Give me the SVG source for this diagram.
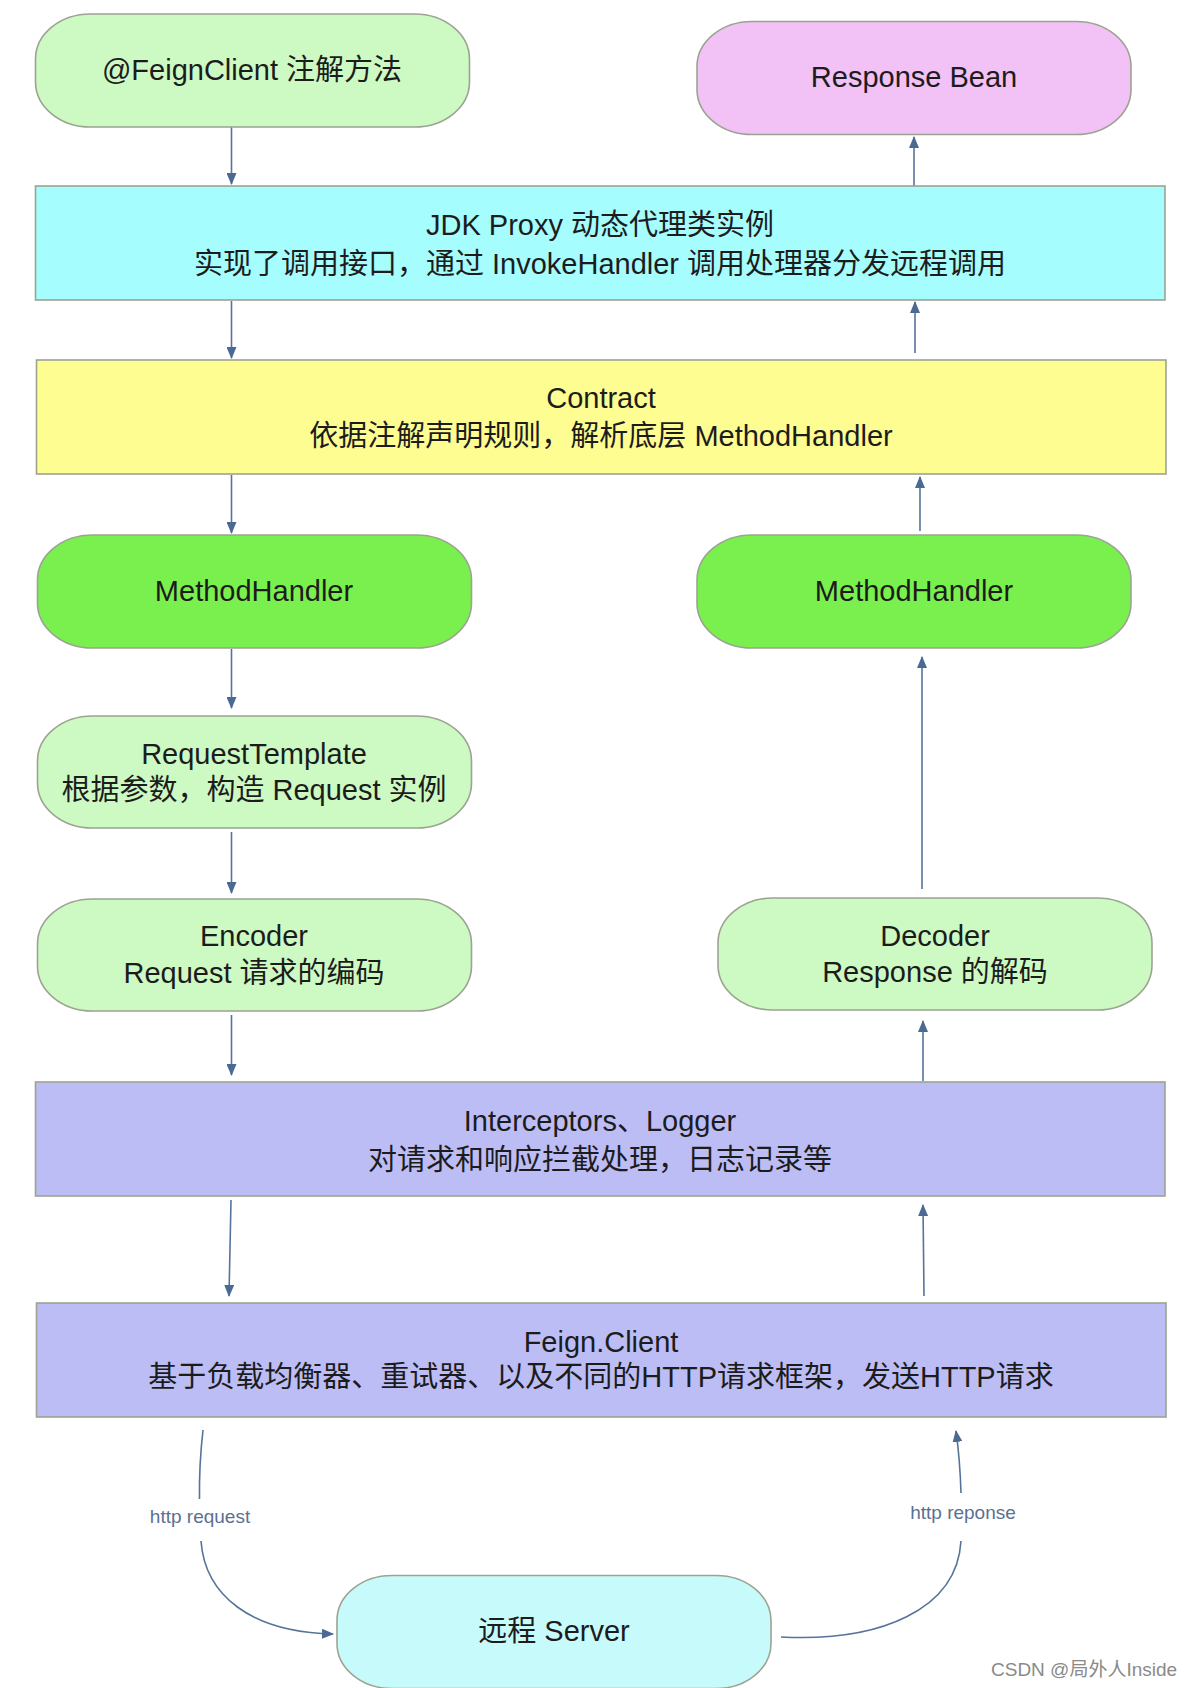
<svg xmlns="http://www.w3.org/2000/svg" width="1190" height="1688" viewBox="0 0 1190 1688">
<style>
.t{font-family:"Liberation Sans","Noto Sans CJK SC",sans-serif;font-size:29px;fill:#1c1c1c;text-anchor:middle}
.s{font-family:"Liberation Sans","Noto Sans CJK SC",sans-serif;font-size:19px;fill:#5a7092;text-anchor:middle}
.w{font-family:"Liberation Sans","Noto Sans CJK SC",sans-serif;font-size:19px;fill:#8a8a8a}
.n{stroke:#9ca393;stroke-width:1.6}
.c{fill:none;stroke:#56739a;stroke-width:1.6}
</style>
<defs>
<marker id="ah" markerUnits="userSpaceOnUse" markerWidth="12" markerHeight="10" refX="11" refY="5" orient="auto">
<path d="M0,0 L12,5 L0,10 z" fill="#4a6a94"/>
</marker>
</defs>
<rect width="1190" height="1688" fill="#ffffff"/>
<g id="connectors">
<line class="c" x1="231.5" y1="127" x2="231.5" y2="184" marker-end="url(#ah)"/>
<line class="c" x1="914" y1="186" x2="914" y2="137" marker-end="url(#ah)"/>
<line class="c" x1="231.5" y1="301" x2="231.5" y2="358" marker-end="url(#ah)"/>
<line class="c" x1="915" y1="353" x2="915" y2="302" marker-end="url(#ah)"/>
<line class="c" x1="231.5" y1="475" x2="231.5" y2="533" marker-end="url(#ah)"/>
<line class="c" x1="920" y1="531" x2="920" y2="477" marker-end="url(#ah)"/>
<line class="c" x1="231.5" y1="649" x2="231.5" y2="708" marker-end="url(#ah)"/>
<line class="c" x1="922" y1="889" x2="922" y2="657" marker-end="url(#ah)"/>
<line class="c" x1="231.5" y1="832" x2="231.5" y2="893" marker-end="url(#ah)"/>
<line class="c" x1="231.5" y1="1015" x2="231.5" y2="1075" marker-end="url(#ah)"/>
<line class="c" x1="923" y1="1081" x2="923" y2="1021" marker-end="url(#ah)"/>
<line class="c" x1="231" y1="1200" x2="229" y2="1296" marker-end="url(#ah)"/>
<line class="c" x1="924" y1="1296" x2="923" y2="1205" marker-end="url(#ah)"/>
<path class="c" d="M203,1430 Q199,1465 199.5,1499"/>
<path class="c" d="M201,1541 C205,1595 250,1632 333,1634" marker-end="url(#ah)"/>
<path class="c" d="M781,1637 C880,1642 957,1610 961,1541"/>
<path class="c" d="M961,1493 Q960,1460 956,1431" marker-end="url(#ah)"/>
<text class="s" x="200" y="1523">http request</text>
<text class="s" x="963" y="1519">http reponse</text>
</g>
<g id="feignclient">
<rect class="n" x="35.5" y="14" width="434" height="113" rx="55" ry="45" fill="#cdf9c3"/>
<text class="t" x="252" y="80">@FeignClient 注解方法</text>
</g>
<g id="responsebean">
<rect class="n" x="697" y="21.5" width="434" height="113" rx="55" ry="45" fill="#f2c1f6"/>
<text class="t" x="914" y="87">Response Bean</text>
</g>
<g id="jdkproxy">
<rect class="n" x="35.5" y="186" width="1129.5" height="114" fill="#a6fdfd"/>
<text class="t" x="600" y="235">JDK Proxy 动态代理类实例</text>
<text class="t" x="600" y="274">实现了调用接口，通过 InvokeHandler 调用处理器分发远程调用</text>
</g>
<g id="contract">
<rect class="n" x="36.5" y="360" width="1129.5" height="114" fill="#fdfd91"/>
<text class="t" x="601" y="408">Contract</text>
<text class="t" x="601" y="446">依据注解声明规则，解析底层 MethodHandler</text>
</g>
<g id="methodhandler-left">
<rect class="n" x="37.5" y="535" width="434" height="113" rx="55" ry="45" fill="#7af04e"/>
<text class="t" x="254" y="601">MethodHandler</text>
</g>
<g id="methodhandler-right">
<rect class="n" x="697" y="535" width="434" height="113" rx="55" ry="45" fill="#7af04e"/>
<text class="t" x="914" y="601">MethodHandler</text>
</g>
<g id="requesttemplate">
<rect class="n" x="37.5" y="716" width="434" height="112" rx="55" ry="45" fill="#cdf9c3"/>
<text class="t" x="254" y="764">RequestTemplate</text>
<text class="t" x="254" y="800">根据参数，构造 Request 实例</text>
</g>
<g id="encoder">
<rect class="n" x="37.5" y="899" width="434" height="112" rx="55" ry="45" fill="#cdf9c3"/>
<text class="t" x="254" y="946">Encoder</text>
<text class="t" x="254" y="983">Request 请求的编码</text>
</g>
<g id="decoder">
<rect class="n" x="718" y="898" width="434" height="112" rx="55" ry="45" fill="#cdf9c3"/>
<text class="t" x="935" y="946">Decoder</text>
<text class="t" x="935" y="982">Response 的解码</text>
</g>
<g id="interceptors">
<rect class="n" x="35.5" y="1082" width="1129.5" height="114" fill="#bdbdf6"/>
<text class="t" x="600" y="1131">Interceptors、Logger</text>
<text class="t" x="600" y="1170">对请求和响应拦截处理，日志记录等</text>
</g>
<g id="feign-client">
<rect class="n" x="36.5" y="1303" width="1129.5" height="114" fill="#bdbdf6"/>
<text class="t" x="601" y="1352">Feign.Client</text>
<text class="t" x="601" y="1387">基于负载均衡器、重试器、以及不同的HTTP请求框架，发送HTTP请求</text>
</g>
<g id="server">
<rect class="n" x="337" y="1575.5" width="434" height="113" rx="55" ry="45" fill="#c7fbfb"/>
<text class="t" x="554" y="1641">远程 Server</text>
</g>
<text class="w" x="991" y="1676">CSDN @局外人Inside</text>
</svg>
